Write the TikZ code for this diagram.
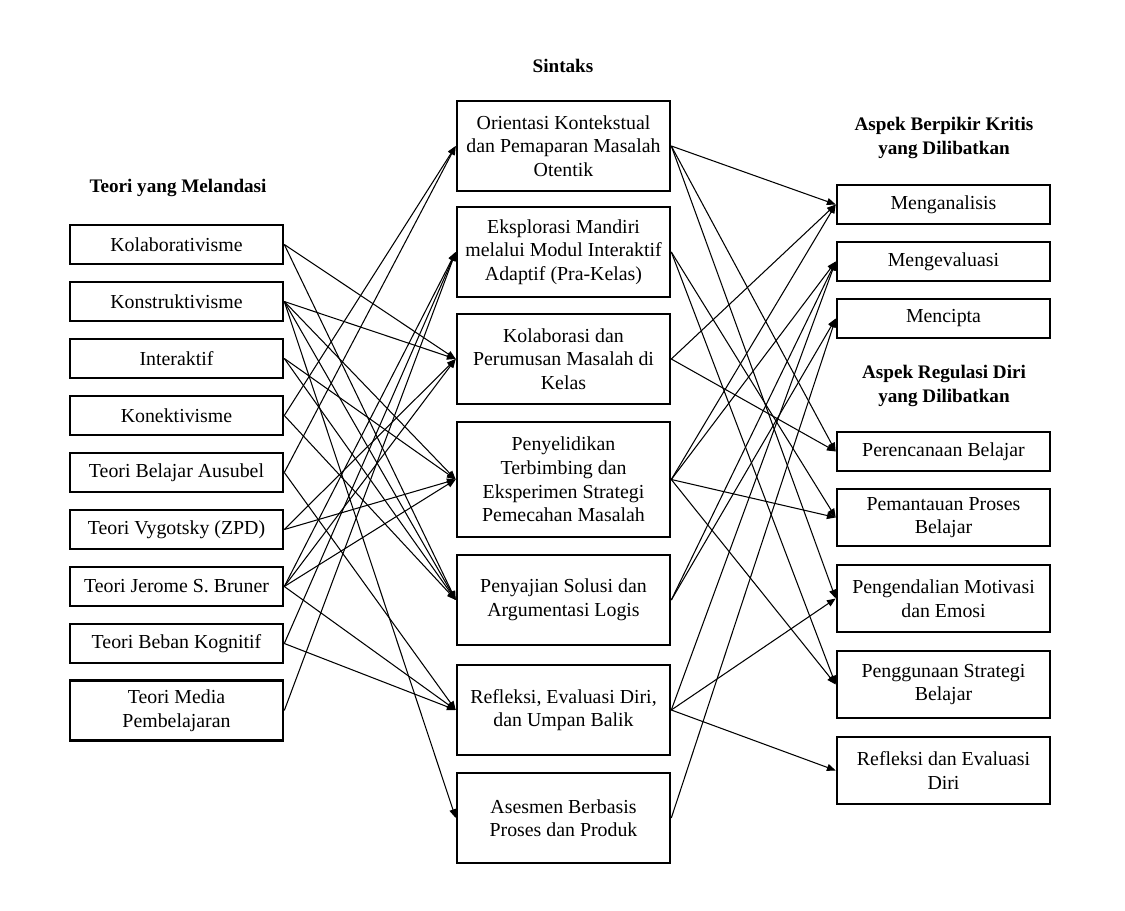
\documentclass[tikz,border=0pt]{standalone}
\usepackage{fontspec}
\setmainfont{Liberation Serif}
\usetikzlibrary{arrows.meta}
\tikzset{
    box/.style={
        draw=black,
        line width=1.5pt,
        fill=white,
        minimum width=4.26cm,
        minimum height=#1,
        text=black,
        font=\fontsize{11.3}{13.4}\selectfont,
        align=center,
        inner sep=2pt
    },
    box/.default=0.78cm,
    head/.style={
        font=\fontsize{10.9}{13.2}\selectfont\bfseries,
        align=center
    },
    link/.style={
        -{Triangle[length=5pt,width=4pt]},
        line width=0.6pt,
        black
    }
}
\begin{document}
\begin{tikzpicture}[x=0.02cm, y=-0.02cm]
        \useasboundingbox (0,0) rectangle (1125,911);

        % Headings
        \node[head] (h1) at (563,66) {Sintaks};
        \node[head] (h2) at (178,188) {Teori yang Melandasi};
        \node[head] (h3) at (944,138) {Aspek Berpikir Kritis\\yang Dilibatkan};
        \node[head] (h4) at (944,386) {Aspek Regulasi Diri\\yang Dilibatkan};

        % Teori
        \node[box] (t1) at (176.5,244.5) {Kolaborativisme};
        \node[box] (t2) at (176.5,301.5) {Konstruktivisme};
        \node[box] (t3) at (176.5,358.5) {Interaktif};
        \node[box] (t4) at (176.5,415.5) {Konektivisme};
        \node[box] (t5) at (176.5,472.5) {Teori Belajar Ausubel};
        \node[box] (t6) at (176.5,529.5) {Teori Vygotsky (ZPD)};
        \node[box] (t7) at (176.5,586.5) {Teori Jerome S. Bruner};
        \node[box] (t8) at (176.5,643.5) {Teori Beban Kognitif};
        \node[box=1.2cm] (t9) at (176.5,710.5) {Teori Media\\Pembelajaran};

        % Sintaks
        \node[box=1.8cm] (s1) at (563.5,146) {Orientasi Kontekstual\\dan Pemaparan Masalah\\Otentik};
        \node[box=1.8cm] (s2) at (563.5,252) {Eksplorasi Mandiri\\melalui Modul Interaktif\\Adaptif (Pra-Kelas)};
        \node[box=1.8cm] (s3) at (563.5,359) {Kolaborasi dan\\Perumusan Masalah di\\Kelas};
        \node[box=2.3cm] (s4) at (563.5,479.5) {Penyelidikan\\Terbimbing dan\\Eksperimen Strategi\\Pemecahan Masalah};
        \node[box=1.8cm] (s5) at (563.5,600) {Penyajian Solusi dan\\Argumentasi Logis};
        \node[box=1.8cm] (s6) at (563.5,710) {Refleksi, Evaluasi Diri,\\dan Umpan Balik};
        \node[box=1.8cm] (s7) at (563.5,818) {Asesmen Berbasis\\Proses dan Produk};

        % Aspek
        \node[box] (a1) at (943.5,204.5) {Menganalisis};
        \node[box] (a2) at (943.5,261.5) {Mengevaluasi};
        \node[box] (a3) at (943.5,318.5) {Mencipta};
        \node[box] (a4) at (943.5,451.5) {Perencanaan Belajar};
        \node[box=1.14cm] (a5) at (943.5,517.5) {Pemantauan Proses\\Belajar};
        \node[box=1.34cm] (a6) at (943.5,598.5) {Pengendalian Motivasi\\dan Emosi};
        \node[box=1.34cm] (a7) at (943.5,684.5) {Penggunaan Strategi\\Belajar};
        \node[box=1.34cm] (a8) at (943.5,770.5) {Refleksi dan Evaluasi\\Diri};

        % Teori -> Sintaks
        \draw[link] (t1.east) -- (s3.west);
        \draw[link] (t1.east) -- (s5.west);
        \draw[link] (t2.east) -- (s3.west);
        \draw[link] (t2.east) -- (s4.west);
        \draw[link] (t2.east) -- (s5.west);
        \draw[link] (t2.east) -- (s7.west);
        \draw[link] (t3.east) -- (s4.west);
        \draw[link] (t3.east) -- (s5.west);
        \draw[link] (t4.east) -- (s1.west);
        \draw[link] (t4.east) -- (s5.west);
        \draw[link] (t5.east) -- (s1.west);
        \draw[link] (t5.east) -- (s6.west);
        \draw[link] (t6.east) -- (s3.west);
        \draw[link] (t6.east) -- (s4.west);
        \draw[link] (t7.east) -- (s2.west);
        \draw[link] (t7.east) -- (s3.west);
        \draw[link] (t7.east) -- (s4.west);
        \draw[link] (t7.east) -- (s6.west);
        \draw[link] (t8.east) -- (s2.west);
        \draw[link] (t8.east) -- (s6.west);
        \draw[link] (t9.east) -- (s2.west);

        % Sintaks -> Aspek
        \draw[link] (s1.east) -- (a1.west);
        \draw[link] (s1.east) -- (a4.west);
        \draw[link] (s1.east) -- (a6.west);
        \draw[link] (s2.east) -- (a5.west);
        \draw[link] (s2.east) -- (a7.west);
        \draw[link] (s3.east) -- (a1.west);
        \draw[link] (s3.east) -- (a4.west);
        \draw[link] (s4.east) -- (a1.west);
        \draw[link] (s4.east) -- (a2.west);
        \draw[link] (s4.east) -- (a5.west);
        \draw[link] (s4.east) -- (a7.west);
        \draw[link] (s5.east) -- (a2.west);
        \draw[link] (s5.east) -- (a3.west);
        \draw[link] (s6.east) -- (a2.west);
        \draw[link] (s6.east) -- (a6.west);
        \draw[link] (s6.east) -- (a8.west);
        \draw[link] (s7.east) -- (a3.west);
    \end{tikzpicture}
\end{document}
